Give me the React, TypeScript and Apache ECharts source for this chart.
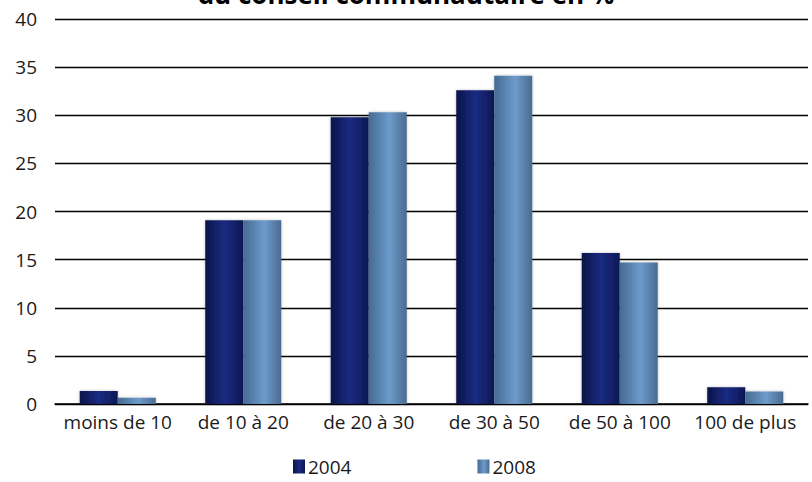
import React, { useEffect, useRef } from "react";
import * as echarts from "echarts";

const categories = ["moins de 10", "de 10 à 20", "de 20 à 30", "de 30 à 50", "de 50 à 100", "100 de plus"];
const values2004 = [1.35, 19.1, 29.8, 32.6, 15.7, 1.75];
const values2008 = [0.65, 19.1, 30.3, 34.1, 14.7, 1.3];
const seriesNames = ["2004", "2008"];
const titleText = "du conseil communautaire en %";

const FONT = "'Open Sans', 'Noto Sans', sans-serif";

export default function App() {
  const ref = useRef<HTMLDivElement>(null);
  useEffect(() => {
    document.body.style.margin = "0";
    const chart = echarts.init(ref.current!, null, { renderer: "svg" });
    const grad2004 = new echarts.graphic.LinearGradient(0, 0, 1, 0, [
      { offset: 0, color: "#0b1448" },
      { offset: 0.5, color: "#1a2b82" },
      { offset: 1, color: "#0d1854" },
    ]);
    const grad2008 = new echarts.graphic.LinearGradient(0, 0, 1, 0, [
      { offset: 0, color: "#466a92" },
      { offset: 0.55, color: "#6d9bcb" },
      { offset: 1, color: "#4a6b90" },
    ]);
    chart.setOption({
      animation: false,
      textStyle: { fontFamily: FONT },
      graphic: [
        {
          type: "text",
          left: "center",
          top: -19,
          style: {
            text: titleText,
            font: `bold 26px ${FONT}`,
            fill: "#000",
          },
        },
      ],
      legend: {
        left: 288,
        top: 452,
        itemGap: 126,
        itemWidth: 12,
        itemHeight: 14,
        icon: "rect",
        textStyle: { fontSize: 19, color: "#1a1a1a", fontFamily: FONT, padding: [0, 0, 0, -2] },
        data: seriesNames,
      },
      grid: { left: 55, right: 4, top: 19, bottom: 78, containLabel: false },
      xAxis: {
        type: "category",
        data: categories,
        axisLine: { show: true, lineStyle: { color: "#000", width: 1.5 } },
        axisTick: { show: false },
        axisLabel: { fontSize: 19, color: "#1a1a1a", margin: 8, fontFamily: FONT, interval: 0 },
      },
      yAxis: {
        type: "value",
        min: 0,
        max: 40,
        interval: 5,
        axisLine: { show: false },
        axisTick: { show: false },
        axisLabel: { fontSize: 19, color: "#1a1a1a", margin: 18, fontFamily: FONT },
        splitLine: { lineStyle: { color: "#000", width: 1.3 } },
      },
      series: [
        {
          name: seriesNames[0],
          type: "bar",
          data: values2004,
          barWidth: 38,
          barGap: "0%",
          itemStyle: { color: grad2004, shadowBlur: 3, shadowColor: "rgba(0,0,0,0.25)" },
        },
        {
          name: seriesNames[1],
          type: "bar",
          data: values2008,
          barWidth: 38,
          barGap: "0%",
          itemStyle: { color: grad2008, shadowBlur: 3, shadowColor: "rgba(0,0,0,0.25)" },
        },
      ],
    });
    return () => chart.dispose();
  }, []);
  return <div ref={ref} style={{ width: 812, height: 482 }} />;
}
